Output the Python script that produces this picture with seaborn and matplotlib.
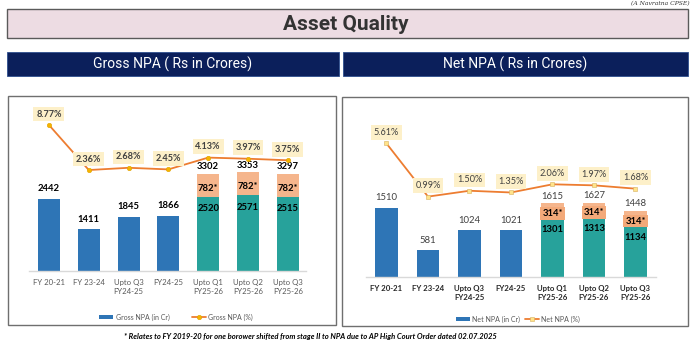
import numpy as np
import matplotlib
matplotlib.use("Agg")
import matplotlib.pyplot as plt
from matplotlib.patches import Rectangle, Patch
from matplotlib.lines import Line2D
import seaborn as sns

# ---------------- data ----------------
categories = ["FY 20-21", "FY 23-24", "Upto Q3\nFY24-25", "FY24-25",
              "Upto Q1\nFY25-26", "Upto Q2\nFY25-26", "Upto Q3\nFY25-26"]
gross_npa = [2442, 1411, 1845, 1866, 2520, 2571, 2515]
gross_special = [0, 0, 0, 0, 782, 782, 782]
gross_pct = [8.77, 2.36, 2.68, 2.45, 4.13, 3.97, 3.75]
net_npa = [1510, 581, 1024, 1021, 1301, 1313, 1134]
net_special = [0, 0, 0, 0, 314, 314, 314]
net_pct = [5.61, 0.99, 1.50, 1.35, 2.06, 1.97, 1.68]

title = "Asset Quality"
gross_header = "Gross NPA ( Rs in Crores)"
net_header = "Net NPA ( Rs in Crores)"
gross_legend = ["Gross NPA (in Cr)", "Gross NPA (%)"]
net_legend = ["Net NPA (in Cr)", "Net NPA (%)"]
corner_text = "(A Navratna CPSE)"
footnote = ("* Relates to FY 2019-20 for one borower shifted from stage II to NPA "
            "due to AP High Court Order dated 02.07.2025")

# ---------------- style ----------------
BLUE = "#2e75b6"
TEAL = "#27a29b"
SALMON = "#f5b58c"
SALMON_BOX = "#f3a979"
ORANGE = "#ed7d31"
CREAM = "#fdf0c9"
NAVY = "#0b1f5b"

W, H = 690, 345
sns.set_theme(style="white")
plt.rcParams["font.family"] = ["Lato", "DejaVu Sans"]
fig = plt.figure(figsize=(W / 100, H / 100), dpi=100)


def fx(x):
    return x / W


def fy(y):
    return 1 - y / H


def rect_px(x0, y0, x1, y1, **kw):
    r = Rectangle((fx(x0), fy(y1)), (x1 - x0) / W, (y1 - y0) / H,
                  transform=fig.transFigure, **kw)
    fig.add_artist(r)


PX = 0.72  # points per pixel at 100 dpi

# title block
rect_px(7, 9, 688, 38, facecolor="#eddce3", edgecolor="#5a5a5a", lw=1.0)
fig.text(fx(346), fy(24), title, ha="center", va="center", fontsize=15,
         fontweight="bold", color="#333333", family=["Roboto", "DejaVu Sans"])
fig.text(fx(631), fy(4), corner_text, ha="left", va="center", fontsize=4.3,
         style="italic", color="#333333", family=["DejaVu Serif"])

# headers
rect_px(7, 52, 339, 76, facecolor=NAVY, edgecolor="#2f4f8f", lw=0.6)
rect_px(343, 52, 688, 76, facecolor=NAVY, edgecolor="#2f4f8f", lw=0.6)
fig.text(fx(173), fy(64), gross_header, ha="center", va="center", fontsize=10,
         color="white", family=["Roboto", "DejaVu Sans"])
fig.text(fx(515.5), fy(64), net_header, ha="center", va="center", fontsize=10,
         color="white", family=["Roboto", "DejaVu Sans"])

# panel frames
rect_px(8, 96, 336, 325, facecolor="none", edgecolor="#6f6f6f", lw=1.0)
rect_px(342, 97, 688, 326, facecolor="none", edgecolor="#6f6f6f", lw=1.0)


def panel(ax_px, bar_ylim, pct_ylim, base, special, pct, gross, legend_labels,
          legend_xy, colspace, marker_kw):
    x0, y0, x1, y1 = ax_px
    ax = fig.add_axes([fx(x0), fy(y1), (x1 - x0) / W, (y1 - y0) / H])
    n = len(categories)
    palette = {c: (TEAL if s > 0 else BLUE) for c, s in zip(categories, special)}
    sns.barplot(x=categories, y=base, hue=categories, palette=palette,
                legend=False, width=0.55, saturation=1, ax=ax, linewidth=0)
    idx = np.arange(n)
    ax.bar(idx, special, bottom=base, width=0.55, color=SALMON, linewidth=0)

    top_kw = dict(fontsize=6.8, fontweight="bold", color="black") if gross else \
        dict(fontsize=6.8, fontweight="normal", color="#404040")
    for i in range(n):
        b, s = base[i], special[i]
        if s == 0:
            ax.annotate(f"{b}", (i, b), xytext=(0, 10 * PX), textcoords="offset points",
                        ha="center", va="center", **top_kw)
        else:
            ax.annotate(f"{b + s}", (i, b + s), xytext=(0, 7 * PX),
                        textcoords="offset points", ha="center", va="center", **top_kw)
            bb = None if gross else dict(boxstyle="square,pad=0.2", fc=SALMON_BOX, ec="none")
            ax.annotate(f"{s}*", (i, b + s / 2), xytext=(0, -3 * PX),
                        textcoords="offset points", ha="center", va="center",
                        fontsize=6.8, fontweight="bold", color="black", bbox=bb)
            ax.annotate(f"{b}", (i, b), xytext=(0, -12 * PX), textcoords="offset points",
                        ha="center", va="center", fontsize=6.8, fontweight="bold",
                        color="black")

    ax.set_ylim(*bar_ylim)
    ax.set_xlim(-0.5, n - 0.5 if not gross else n - 0.55)
    ax.set_yticks([])
    ax.set_xlabel("")
    ax.set_ylabel("")
    for side in ["top", "left", "right"]:
        ax.spines[side].set_visible(False)
    ax.spines["bottom"].set_color("#d9d9d9")
    ax.spines["bottom"].set_linewidth(1.0)
    ax.tick_params(axis="x", length=0, pad=5.5, labelsize=5.6,
                   labelcolor="#595959" if gross else "#262626")
    for lbl in ax.get_xticklabels():
        lbl.set_linespacing(1.35)
        if not gross:
            lbl.set_fontweight("bold")
    ax.patch.set_alpha(0)

    ax2 = ax.twinx()
    sns.lineplot(x=idx, y=pct, ax=ax2, color=ORANGE, lw=1.3, **marker_kw)
    ax2.set_ylim(*pct_ylim)
    ax2.set_xlim(ax.get_xlim())
    ax2.set_yticks([])
    ax2.set_ylabel("")
    for side in ["top", "left", "right", "bottom"]:
        ax2.spines[side].set_visible(False)
    for i, v in enumerate(pct):
        ax2.annotate(f"{v:.2f}%", (i, v), xytext=(0, 11 * PX), textcoords="offset points",
                     ha="center", va="center", fontsize=6.6,
                     fontweight="bold" if gross else "normal", color="#404040",
                     bbox=dict(boxstyle="square,pad=0.3", fc=CREAM, ec="none"))

    handles = [Patch(facecolor=BLUE, edgecolor="none"),
               Line2D([], [], color=ORANGE, lw=1.3, **marker_kw)]
    fig.legend(handles, legend_labels, loc="center",
               bbox_to_anchor=(fx(legend_xy[0]), fy(legend_xy[1])), ncol=2,
               frameon=False, fontsize=5, handlelength=2.1, handleheight=0.45,
               handletextpad=0.3, columnspacing=colspace, labelcolor="#595959")
    return ax


panel((29.1, 100, 305.7, 271), (0, (271 - 100) / 0.0295),
      ((186.6 - 271) / 7.02, (186.6 - 100) / 7.02),
      gross_npa, gross_special, gross_pct, True, gross_legend, (176, 317), 3.2,
      dict(marker="o", markersize=3.2, markerfacecolor="#f5b400",
           markeredgecolor="#e0a000", markeredgewidth=0.4))

panel((365.75, 100, 656.25, 277), (0, (277 - 100) / 0.0457),
      ((208 - 277) / 11.5, (208 - 100) / 11.5),
      net_npa, net_special, net_pct, False, net_legend, (518, 319), 0.6,
      dict(marker="s", markersize=3.2, markerfacecolor="#ffe38a",
           markeredgecolor="#d6b060", markeredgewidth=0.4))

fig.text(fx(310), fy(336), footnote, ha="center", va="center", fontsize=5.5,
         fontweight="bold", style="italic", color="black")

fig.savefig("out.png", dpi=100)
